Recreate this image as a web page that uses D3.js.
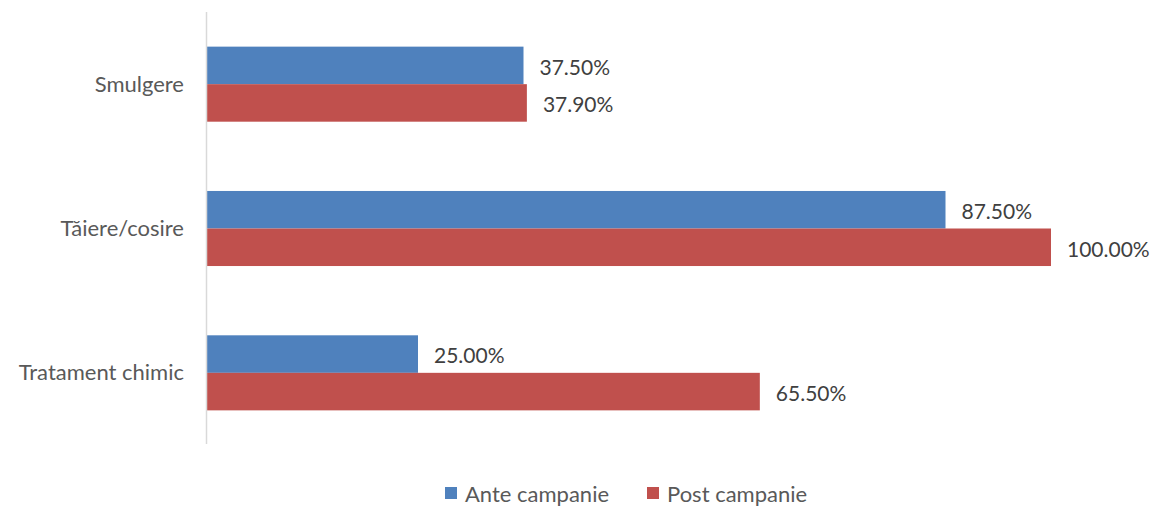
<!DOCTYPE html>
<html>
<head>
<meta charset="utf-8">
<script src="https://cdn.jsdelivr.net/npm/d3@7"></script>
<style>
  body { margin: 0; background: #fff; }
  svg text { font-family: Lato, "Noto Sans", sans-serif; }
</style>
</head>
<body>
<div id="main"></div>
<script>
const categories = ["Smulgere", "Tăiere/cosire", "Tratament chimic"];
const seriesNames = ["Ante campanie", "Post campanie"];
const anteValues = [37.5, 87.5, 25.0];
const postValues = [37.9, 100.0, 65.5];

const colors = ["#4f81bd", "#c0504d"];

const width = 1154;
const height = 506;

const svg = d3.select("#main")
  .append("svg")
  .attr("width", width)
  .attr("height", height);

const x = d3.scaleLinear()
  .domain([0, 100])
  .range([207, 1051]);

const y = d3.scaleBand()
  .domain(categories)
  .range([12, 445])
  .paddingInner(0.48)
  .paddingOuter(0.24);

const inner = d3.scaleBand()
  .domain(seriesNames)
  .range([0, y.bandwidth()]);

const rows = categories.map((c, i) => ({
  cat: c,
  vals: [anteValues[i], postValues[i]]
}));

const groups = svg.selectAll("g.cat")
  .data(rows)
  .enter()
  .append("g")
  .attr("class", "cat")
  .attr("transform", d => "translate(0," + y(d.cat) + ")");

groups.selectAll("rect")
  .data(d => d.vals.map((v, j) => ({ v, name: seriesNames[j], j })))
  .enter()
  .append("rect")
  .attr("x", x(0))
  .attr("y", d => inner(d.name))
  .attr("width", d => x(d.v) - x(0))
  .attr("height", inner.bandwidth())
  .attr("fill", d => colors[d.j]);

groups.selectAll("text.val")
  .data(d => d.vals.map((v, j) => ({ v, name: seriesNames[j], j })))
  .enter()
  .append("text")
  .attr("class", "val")
  .attr("x", d => x(d.v) + 16)
  .attr("y", d => inner(d.name) + inner.bandwidth() / 2 + 4)
  .attr("dominant-baseline", "middle")
  .attr("font-size", 21)
  .attr("fill", "#404040")
  .text(d => d.v.toFixed(2) + "%");

// category axis
svg.append("line")
  .attr("x1", x(0) - 0.5).attr("x2", x(0) - 0.5)
  .attr("y1", 12).attr("y2", 444)
  .attr("stroke", "#d9d9d9")
  .attr("stroke-width", 1.5);

svg.selectAll("text.cat")
  .data(categories)
  .enter()
  .append("text")
  .attr("class", "cat")
  .attr("x", 184)
  .attr("y", d => y(d) + y.bandwidth() / 2 + 2)
  .attr("text-anchor", "end")
  .attr("dominant-baseline", "middle")
  .attr("font-size", 22)
  .attr("fill", "#595959")
  .text(d => d);

// legend
const legendX = [445, 647];
const legend = svg.selectAll("g.legend")
  .data(seriesNames)
  .enter()
  .append("g")
  .attr("class", "legend")
  .attr("transform", (d, i) => "translate(" + legendX[i] + ",487)");

legend.append("rect")
  .attr("width", 12)
  .attr("height", 12)
  .attr("fill", (d, i) => colors[i]);

legend.append("text")
  .attr("x", 20)
  .attr("y", 9)
  .attr("dominant-baseline", "middle")
  .attr("font-size", 22)
  .attr("fill", "#595959")
  .text(d => d);
</script>
</body>
</html>
